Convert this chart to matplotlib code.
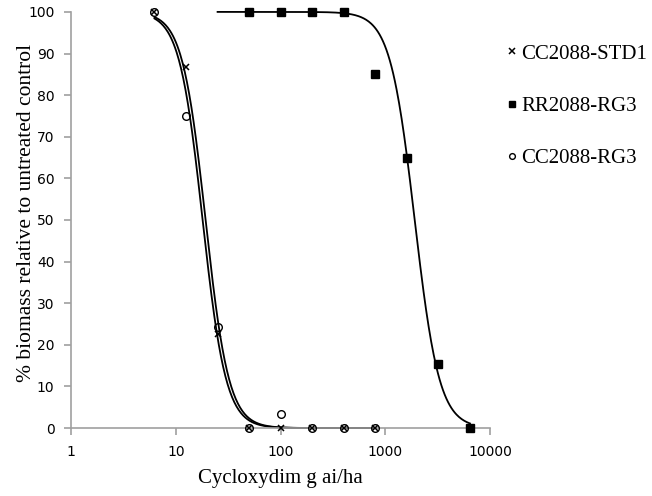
import numpy as np
import matplotlib.pyplot as plt

# doses (g ai/ha) and % biomass relative to untreated control
dose_cc = [6.25, 12.5, 25, 50, 100, 200, 400, 800]
std1 = [100, 86.7, 22.5, 0, 0, 0, 0, 0]
cc_rg3 = [100, 75, 24.2, 0, 3.3, 0, 0, 0]

dose_rr = [50, 100, 200, 400, 800, 1600, 3200, 6400]
rr_rg3 = [100, 100, 100, 100, 85, 65, 15.3, 0]

# fitted log-logistic parameters (ED50, slope) and curve range
fit_std1 = (18.0, 3.9)
fit_cc = (19.2, 3.9)
fit_rr = (1900, 3.7)
range_cc = (6.25, 800)
range_rr = (25, 6400)


def loglogistic(x, ed50, b):
    return 100 / (1 + (x / ed50) ** b)


fig = plt.figure(figsize=(6.52, 4.96), dpi=100)
ax = fig.add_axes([0.109, 0.137, 0.643, 0.839])

# fitted curves
xs = np.logspace(np.log10(range_cc[0]), np.log10(range_cc[1]), 300)
ax.plot(xs, loglogistic(xs, *fit_std1), color='black', lw=1.3, zorder=2)
ax.plot(xs, loglogistic(xs, *fit_cc), color='black', lw=1.3, zorder=2)
xr = np.logspace(np.log10(range_rr[0]), np.log10(range_rr[1]), 300)
ax.plot(xr, loglogistic(xr, *fit_rr), color='black', lw=1.3, zorder=2)

# observations
ax.plot(dose_cc, std1, ls='none', marker='x', ms=5, mew=1.1, color='black',
        label='CC2088-STD1', zorder=3)
ax.plot(dose_rr, rr_rg3, ls='none', marker='s', ms=5.5, color='black',
        label='RR2088-RG3', zorder=3)
ax.plot(dose_cc, cc_rg3, ls='none', marker='o', ms=5.5, mfc='none', mew=1,
        color='black', label='CC2088-RG3', zorder=3)

ax.set_xscale('log')
ax.set_xlim(1, 10000)
ax.set_ylim(0, 100)
ax.set_xticks([1, 10, 100, 1000, 10000])
ax.set_xticklabels(['1', '10', '100', '1000', '10000'])
ax.minorticks_off()
ax.set_yticks(range(0, 101, 10))

for side in ['top', 'right']:
    ax.spines[side].set_visible(False)
for side in ['left', 'bottom']:
    ax.spines[side].set_color('#a0a0a0')
    ax.spines[side].set_linewidth(1.2)
ax.tick_params(axis='both', direction='out', color='#a0a0a0', length=5,
               width=1.2, labelsize=10, pad=7)
for lab in ax.get_xticklabels() + ax.get_yticklabels():
    lab.set_family('DejaVu Sans')

ax.set_xlabel('Cycloxydim g ai/ha', family='Liberation Serif', fontsize=15)
ax.set_ylabel('% biomass relative to untreated control',
              family='Liberation Serif', fontsize=15.5)
ax.xaxis.set_label_coords(0.499, -0.098)
ax.yaxis.set_label_coords(-0.084, 0.517)

leg = ax.legend(loc='upper left', bbox_to_anchor=(1.015, 0.948), frameon=False,
                prop={'family': 'Liberation Serif', 'size': 15},
                handlelength=0.5, handletextpad=0.2, labelspacing=1.57,
                markerscale=0.75, borderpad=0)
for line in ax.lines:
    line.set_clip_on(False)

fig.savefig('out.png', dpi=100)
